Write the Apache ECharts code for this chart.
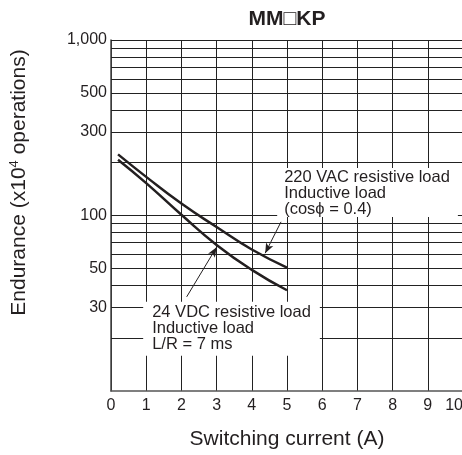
<!DOCTYPE html>
<html>
<head>
<meta charset="utf-8">
<script src="https://cdn.jsdelivr.net/npm/echarts@6/dist/echarts.min.js"></script>
<style>
html, body { margin: 0; padding: 0; background: #fff; }
#main { width: 462px; height: 455px; }
</style>
</head>
<body>
<div id="main"></div>
<script>
// switching current (A)
const currentA = [0.2, 1, 2, 3, 4, 5];
// endurance x10^4 operations
const acLoad = [223, 166, 117, 86, 64, 50.5];
const dcLoad = [208, 153, 101, 68, 49, 37.5];

// log grid lines and the labelled ones
const yGridValues = [20, 30, 40, 50, 60, 70, 80, 90, 100, 200, 300, 400, 500, 600, 700, 800, 900, 1000];
const yTickValues = [30, 50, 100, 300, 500, 1000];
const yTickLabels = ['30', '50', '100', '300', '500', '1,000'];

// arrows: [from, to] in data coords
const acArrow = [[4.83, 92], [4.38, 61]];
const dcArrow = [[2.15, 34.4], [3.0, 66]];

const FONT = '"Liberation Sans", Arial, sans-serif';
const INK = '#231f20';

const chart = echarts.init(document.getElementById('main'));

const gridLines = yGridValues.map(v => {
  const i = yTickValues.indexOf(v);
  const item = { yAxis: v };
  if (i >= 0) {
    item.label = { show: true, formatter: yTickLabels[i] };
  }
  return item;
});

const option = {
  animation: false,
  grid: { left: 111, top: 40, right: -1, bottom: 64, containLabel: false, outerBoundsMode: 'none' },
  xAxis: {
    type: 'value',
    min: 0,
    max: 10,
    interval: 1,
    name: 'Switching current (A)',
    nameLocation: 'middle',
    nameGap: 38,
    nameTextStyle: { fontFamily: FONT, fontSize: 21, color: INK },
    axisLine: { show: true, lineStyle: { color: '#555', width: 1.5 } },
    axisTick: { show: false },
    axisLabel: { fontFamily: FONT, fontSize: 16, color: INK, margin: 7, hideOverlap: false, alignMaxLabel: 'right' },
    splitLine: { show: true, lineStyle: { color: '#222', width: 1 } }
  },
  yAxis: {
    type: 'log',
    logBase: 10,
    min: 10,
    max: 1000,
    name: 'Endurance (x10{sup|4} operations)',
    nameLocation: 'middle',
    nameRotate: 90,
    nameGap: 80,
    nameTextStyle: {
      fontFamily: FONT, fontSize: 21, color: INK,
      padding: [0, 0, 0, 66],
      rich: { sup: { fontFamily: FONT, fontSize: 13, color: INK, verticalAlign: 'top', padding: [0, 0, 10, 0] } }
    },
    axisLine: { show: true, lineStyle: { color: '#444', width: 1.5 } },
    axisTick: { show: false },
    axisLabel: { show: false },
    splitLine: { show: false }
  },
  series: [
    {
      name: '220 VAC',
      type: 'line',
      smooth: true,
      symbol: 'none',
      data: currentA.map((x, i) => [x, acLoad[i]]),
      lineStyle: { color: INK, width: 2.5 },
      z: 5,
      // horizontal log grid + y tick labels
      markLine: {
        silent: true,
        symbol: 'none',
        animation: false,
        lineStyle: { color: '#222', width: 1, type: 'solid' },
        label: { show: false, position: 'start', distance: 4, fontFamily: FONT, fontSize: 16, color: INK },
        emphasis: { disabled: true },
        data: gridLines
      }
    },
    {
      name: '24 VDC',
      type: 'line',
      smooth: true,
      symbol: 'none',
      data: currentA.map((x, i) => [x, dcLoad[i]]),
      lineStyle: { color: INK, width: 2.5 },
      z: 5,
      markLine: {
        silent: true,
        symbol: ['none', 'arrow'],
        symbolSize: [6, 10],
        animation: false,
        lineStyle: { color: INK, width: 1, type: 'solid' },
        label: { show: false },
        emphasis: { disabled: true },
        data: [
          [{ coord: acArrow[0] }, { coord: acArrow[1] }],
          [{ coord: dcArrow[0] }, { coord: dcArrow[1] }]
        ]
      }
    }
  ]
};

chart.setOption(option);

// annotation boxes, anchored in data coords
const acPos = chart.convertToPixel({ gridIndex: 0 }, [4.92, 184]);
const dcPos = chart.convertToPixel({ gridIndex: 0 }, [1.17, 31]);

function noteBox(pos, lines, pad) {
  return {
    type: 'text',
    z: 100,
    x: pos[0] - pad[3],
    y: pos[1] - pad[0],
    style: {
      text: lines.join('\n'),
      font: '16.5px ' + FONT,
      fill: INK,
      lineHeight: 16,
      align: 'left',
      verticalAlign: 'top',
      backgroundColor: '#fff',
      padding: pad
    }
  };
}

chart.setOption({
  graphic: [
    {
      type: 'text',
      z: 100,
      x: 287,
      y: 19,
      style: {
        text: 'MM\u25A1KP',
        font: 'bold 21px ' + FONT,
        fill: INK,
        align: 'center',
        verticalAlign: 'middle'
      }
    },
    noteBox(acPos, ['220 VAC resistive load', 'Inductive load', '(cos\u03D5 = 0.4)'], [1, 8, 0, 7]),
    noteBox(dcPos, ['24 VDC resistive load', 'Inductive load', 'L/R = 7 ms'], [3, 9, 3, 9])
  ]
});
</script>
</body>
</html>
